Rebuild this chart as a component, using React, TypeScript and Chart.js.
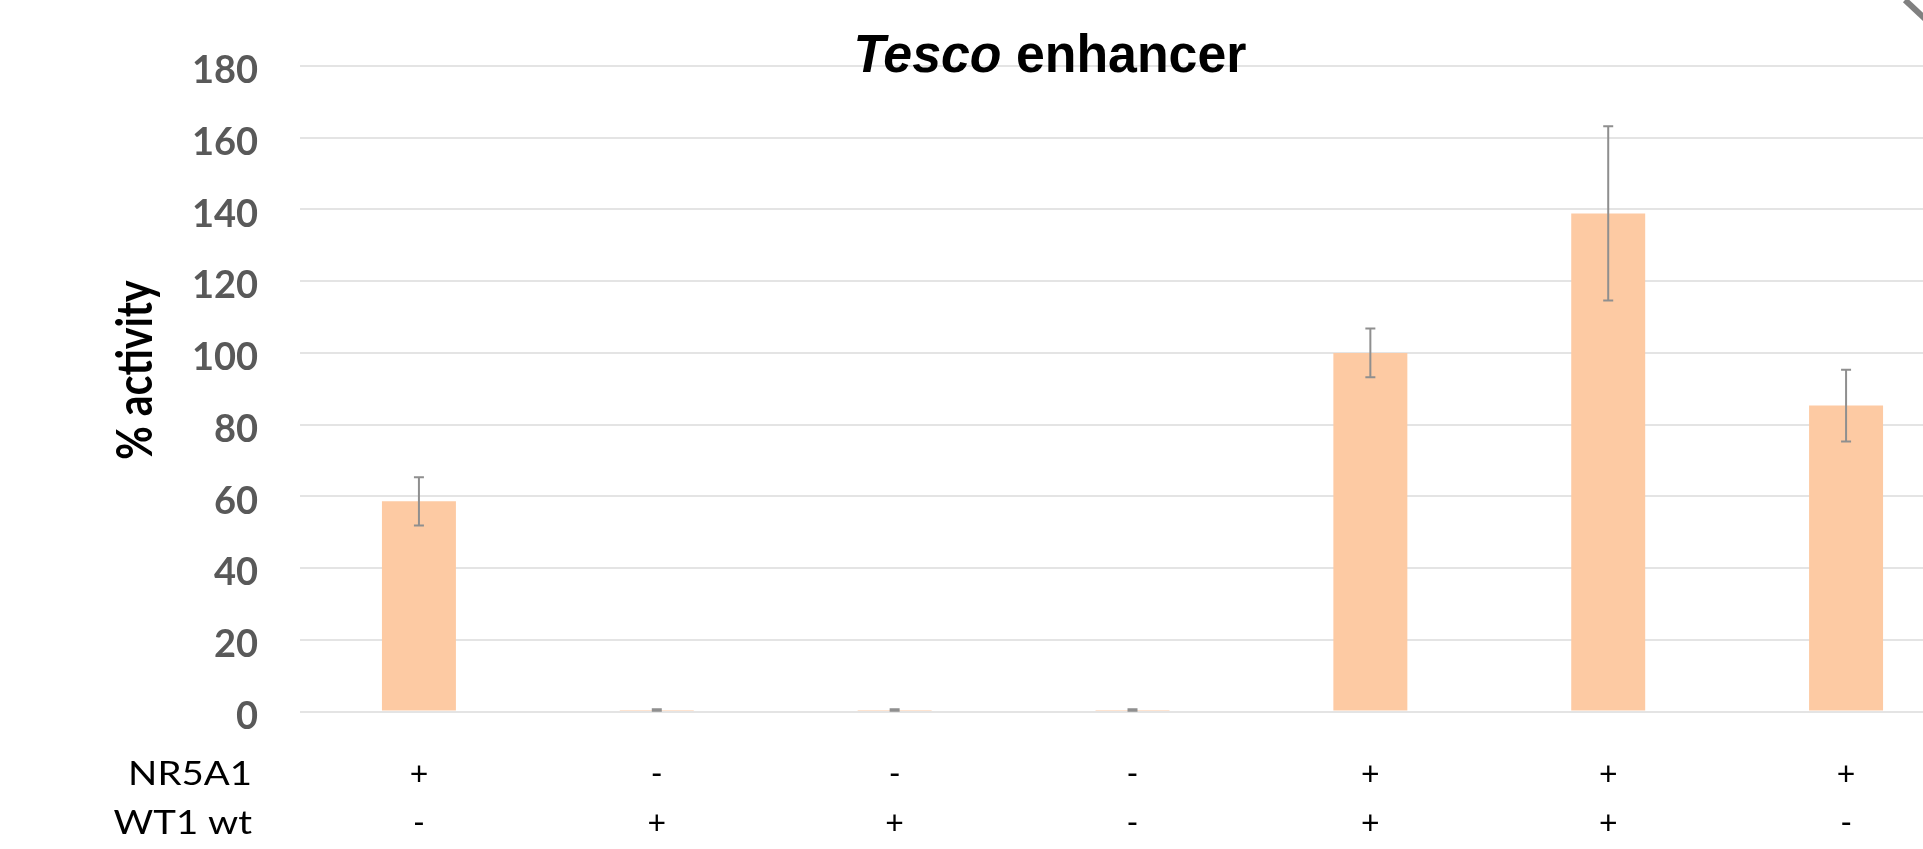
import React, { useEffect, useRef } from "react";
import { Chart, registerables } from "chart.js";

Chart.register(...registerables);

// Transfection conditions (one column per construct combination)
const NR5A1 = ["+", "-", "-", "-", "+", "+", "+"];
const WT1_WT = ["-", "+", "+", "-", "+", "+", "-"];
const ROW_NAMES = ["NR5A1", "WT1 wt"];

// Mean reporter activity (%) and its error
const ACTIVITY = [58.6, 0.4, 0.4, 0.4, 100, 138.9, 85.3];
const ACTIVITY_ERR = [6.7, 0.2, 0.2, 0.2, 6.8, 24.3, 10];

const Y_TICKS = [0, 20, 40, 60, 80, 100, 120, 140, 160, 180];

const TITLE_ITALIC = "Tesco";
const TITLE_REST = " enhancer";
const Y_TITLE = "% activity";

const BAR_COLOR = "#FDCAA3";
const ERR_COLOR = "#8f8f8f";
const GRID_COLOR = "#e4e4e4";

const X_FONT_SIZE = 32;
const X_LINE_HEIGHT = 49;
const X_PAD = 39;

const errorBars = {
  id: "errorBars",
  afterDatasetsDraw(chart: any) {
    const { ctx } = chart;
    const y = chart.scales.y;
    const meta = chart.getDatasetMeta(0);
    ctx.save();
    ctx.strokeStyle = ERR_COLOR;
    ctx.lineWidth = 2;
    meta.data.forEach((bar: any, i: number) => {
      const v = ACTIVITY[i];
      const e = ACTIVITY_ERR[i];
      const top = y.getPixelForValue(v + e);
      const bot = y.getPixelForValue(v - e);
      const x = bar.x;
      const cap = 5;
      ctx.beginPath();
      ctx.moveTo(x, top);
      ctx.lineTo(x, bot);
      ctx.moveTo(x - cap, top);
      ctx.lineTo(x + cap, top);
      ctx.moveTo(x - cap, bot);
      ctx.lineTo(x + cap, bot);
      ctx.stroke();
    });
    ctx.restore();
  },
};

const textLayer = {
  id: "textLayer",
  afterDraw(chart: any) {
    const { ctx, chartArea } = chart;
    const xs = chart.scales.x;
    ctx.save();
    ctx.fillStyle = "#000";

    // Title: italic gene name followed by upright text
    const fItalic = "italic bold 54px 'Liberation Sans', Arial, sans-serif";
    const fBold = "bold 54px 'Liberation Sans', Arial, sans-serif";
    ctx.font = fItalic;
    const w1 = ctx.measureText(TITLE_ITALIC).width;
    ctx.font = fBold;
    const w2 = ctx.measureText(TITLE_REST).width;
    ctx.save();
    ctx.translate(chartArea.left + 750, 72);
    ctx.scale(0.96, 1);
    ctx.textBaseline = "alphabetic";
    ctx.textAlign = "left";
    const start = -(w1 + w2) / 2;
    ctx.font = fItalic;
    ctx.fillText(TITLE_ITALIC, start, 0);
    ctx.font = fBold;
    ctx.fillText(TITLE_REST, start + w1, 0);
    ctx.restore();

    // Y axis title
    ctx.save();
    ctx.translate(136, 370);
    ctx.scale(1.2, 1);
    ctx.rotate(-Math.PI / 2);
    ctx.font = "bold 41px Lato, sans-serif";
    ctx.textAlign = "center";
    ctx.textBaseline = "middle";
    ctx.fillText(Y_TITLE, 0, 0);
    ctx.restore();

    // Row headers for the condition table under the axis
    ROW_NAMES.forEach((name, i) => {
      const yy = xs.top + X_PAD + X_LINE_HEIGHT * (i + 0.5);
      ctx.save();
      ctx.translate(chartArea.left - 48, yy);
      ctx.scale(1.2, 1);
      ctx.font = `${X_FONT_SIZE}px Lato, sans-serif`;
      ctx.textAlign = "right";
      ctx.textBaseline = "middle";
      ctx.fillText(name, 0, 0);
      ctx.restore();
    });
    ctx.restore();
  },
};

export default function App() {
  const ref = useRef<HTMLCanvasElement | null>(null);

  useEffect(() => {
    const canvas = ref.current;
    if (!canvas) return;
    const chart = new Chart(canvas, {
      type: "bar",
      data: {
        labels: NR5A1.map((n, i) => [n, WT1_WT[i]]),
        datasets: [
          {
            data: ACTIVITY,
            backgroundColor: BAR_COLOR,
            borderWidth: 0,
            barPercentage: 0.311,
            categoryPercentage: 1,
          },
        ],
      },
      options: {
        responsive: false,
        animation: false,
        devicePixelRatio: 1,
        layout: { padding: { top: 66, right: 1, left: 0, bottom: 0 } },
        plugins: {
          legend: { display: false },
          tooltip: { enabled: false },
          title: { display: false },
        },
        scales: {
          x: {
            grid: { display: false, drawTicks: false },
            border: { display: false },
            ticks: {
              color: "#000",
              font: { family: "Lato", size: X_FONT_SIZE, lineHeight: X_LINE_HEIGHT / X_FONT_SIZE },
              padding: X_PAD,
              maxRotation: 0,
              autoSkip: false,
            },
            afterFit: (s: any) => {
              s.height = 137.5;
            },
          },
          y: {
            min: 0,
            max: 180,
            grid: { color: GRID_COLOR, lineWidth: 2, drawTicks: false },
            border: { display: false },
            ticks: {
              color: "#595959",
              font: { family: "Lato", size: 38, weight: "bold" },
              padding: 42,
              labelOffset: 5,
            },
            afterBuildTicks: (s: any) => {
              s.ticks = Y_TICKS.map((value) => ({ value }));
            },
            afterFit: (s: any) => {
              s.width = 300;
            },
          },
        },
      },
      plugins: [errorBars, textLayer],
    });
    return () => chart.destroy();
  }, []);

  return (
    <div
      style={{
        position: "fixed",
        left: 0,
        top: 0,
        width: 1923,
        height: 849,
        overflow: "hidden",
        background: "#fff",
      }}
    >
      <canvas ref={ref} width={1966} height={849} style={{ display: "block" }} />
      <div
        style={{
          position: "absolute",
          left: 1905,
          top: -3,
          width: 32,
          height: 6,
          background: "#808080",
          transform: "rotate(43deg)",
          transformOrigin: "left center",
        }}
      />
    </div>
  );
}
